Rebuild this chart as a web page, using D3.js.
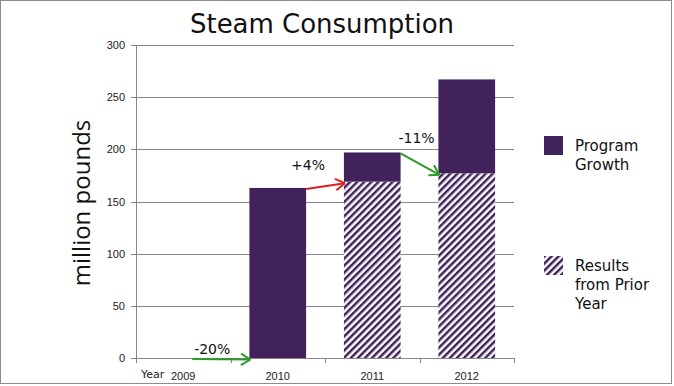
<!DOCTYPE html>
<html>
<head>
<meta charset="utf-8">
<script src="https://cdn.jsdelivr.net/npm/d3@7"></script>
<style>
  body { margin: 0; background: #fff; }
  svg { display: block; }
</style>
</head>
<body>
<script>
// Chart data
const years = ["2009", "2010", "2011", "2012"];
const priorYear = [0, 0, 169, 177];   // results carried from prior year (hatched)
const growth = [0, 163, 28, 90];      // program growth (solid)
const yTicks = [0, 50, 100, 150, 200, 250, 300];
const changes = [
  { from: "2009", to: "2010", label: "-20%", color: "#2a9a2a" },
  { from: "2010", to: "2011", label: "+4%", color: "#e02020" },
  { from: "2011", to: "2012", label: "-11%", color: "#2a9a2a" }
];

const W = 674, H = 386;
const purple = "#42225b";
const gridCol = "#868686";

const svg = d3.select("body").append("svg")
  .attr("width", W)
  .attr("height", H);

// hatch pattern for "results from prior year"
const defs = svg.append("defs");
const pat = defs.append("pattern")
  .attr("id", "hatch")
  .attr("patternUnits", "userSpaceOnUse")
  .attr("width", 5)
  .attr("height", 5)
  .attr("patternTransform", "rotate(45)");
pat.append("rect").attr("width", 5).attr("height", 5).attr("fill", "#fff");
pat.append("rect").attr("width", 2.5).attr("height", 5).attr("fill", purple);

// outer border
svg.append("rect")
  .attr("x", 0.5).attr("y", 0.5)
  .attr("width", 671).attr("height", 383)
  .attr("fill", "#fff")
  .attr("stroke", "#8c8c8c");

// Scales
const x = d3.scaleBand().domain(years).range([136, 514]).padding(0);
const y = d3.scaleLinear().domain([0, 300]).range([358, 45]);
const barW = x.bandwidth() * 0.6;
const barX = (yr) => x(yr) + (x.bandwidth() - barW) / 2;

// gridlines + y ticks
const g = svg.append("g");
g.selectAll("line.grid")
  .data(yTicks)
  .join("line")
  .attr("class", "grid")
  .attr("x1", 131).attr("x2", 514)
  .attr("y1", (d) => Math.round(y(d)) + 0.5)
  .attr("y2", (d) => Math.round(y(d)) + 0.5)
  .attr("stroke", gridCol);

g.selectAll("text.ytick")
  .data(yTicks)
  .join("text")
  .attr("class", "ytick")
  .attr("x", 125)
  .attr("y", (d) => y(d) + 4)
  .attr("text-anchor", "end")
  .attr("font-family", "Liberation Sans, sans-serif")
  .attr("font-size", 11)
  .attr("fill", "#222")
  .text((d) => d);

// y axis line
g.append("line")
  .attr("x1", 136.5).attr("x2", 136.5)
  .attr("y1", y(300)).attr("y2", y(0))
  .attr("stroke", gridCol);

// x ticks at category boundaries
const bounds = years.map((d) => x(d)).concat([x.range()[1]]);
g.selectAll("line.xtick")
  .data(bounds)
  .join("line")
  .attr("class", "xtick")
  .attr("x1", (d) => Math.round(d) + 0.5)
  .attr("x2", (d) => Math.round(d) + 0.5)
  .attr("y1", y(0)).attr("y2", y(0) + 5)
  .attr("stroke", gridCol);

g.selectAll("text.xlab")
  .data(years)
  .join("text")
  .attr("class", "xlab")
  .attr("x", (d) => x(d) + x.bandwidth() / 2)
  .attr("y", 380)
  .attr("text-anchor", "middle")
  .attr("font-family", "Liberation Sans, sans-serif")
  .attr("font-size", 11)
  .attr("fill", "#222")
  .text((d) => d);

g.append("text")
  .attr("x", 141).attr("y", 378)
  .attr("font-family", "DejaVu Sans, sans-serif")
  .attr("font-size", 11)
  .attr("fill", "#222")
  .text("Year");

// bars: hatched prior-year part, solid growth on top
const bars = svg.append("g");
bars.selectAll("rect.prior")
  .data(years)
  .join("rect")
  .attr("class", "prior")
  .attr("x", (d) => barX(d))
  .attr("width", barW)
  .attr("y", (d, i) => y(priorYear[i]))
  .attr("height", (d, i) => y(0) - y(priorYear[i]))
  .attr("fill", "url(#hatch)");

bars.selectAll("rect.growth")
  .data(years)
  .join("rect")
  .attr("class", "growth")
  .attr("x", (d) => barX(d))
  .attr("width", barW)
  .attr("y", (d, i) => y(priorYear[i] + growth[i]))
  .attr("height", (d, i) => y(priorYear[i]) - y(priorYear[i] + growth[i]))
  .attr("fill", purple);

// change arrows from previous total to next year's prior-year base
const total = (yr) => {
  const i = years.indexOf(yr);
  return priorYear[i] + growth[i];
};
// label nudges (dx from arrow start, dy from arrow start)
const labelNudge = [[20, -5], [2, -19], [16, -10]];
const arrows = svg.append("g");
changes.forEach((c, k) => {
  const i = years.indexOf(c.to);
  let x1 = barX(c.from) + barW;
  if (total(c.from) === 0) x1 = x(c.from) + x.bandwidth() / 2 + 9;
  const y1 = y(total(c.from)) + 1;
  const x2 = barX(c.to) + 1;
  const y2 = y(priorYear[i]) + 1.5;
  arrows.append("line")
    .attr("x1", x1).attr("y1", y1)
    .attr("x2", x2).attr("y2", y2)
    .attr("stroke", c.color).attr("stroke-width", 2);
  const ang = Math.atan2(y2 - y1, x2 - x1);
  [-0.55, 0.55].forEach((da) => {
    arrows.append("line")
      .attr("x1", x2).attr("y1", y2)
      .attr("x2", x2 - 11 * Math.cos(ang + da))
      .attr("y2", y2 - 11 * Math.sin(ang + da))
      .attr("stroke", c.color).attr("stroke-width", 2);
  });
  arrows.append("text")
    .attr("x", x1 + labelNudge[k][0])
    .attr("y", y1 + labelNudge[k][1])
    .attr("text-anchor", "middle")
    .attr("font-family", "DejaVu Sans, sans-serif")
    .attr("font-size", 14)
    .attr("fill", "#111")
    .text(c.label);
});

// title
svg.append("text")
  .attr("x", 322).attr("y", 33)
  .attr("text-anchor", "middle")
  .attr("font-family", "DejaVu Sans, sans-serif")
  .attr("font-size", 26)
  .attr("textLength", 264)
  .attr("fill", "#111")
  .text("Steam Consumption");

// y axis title
svg.append("text")
  .attr("transform", "translate(90,203) rotate(-90)")
  .attr("text-anchor", "middle")
  .attr("font-family", "Open Sans, sans-serif")
  .attr("font-size", 24)
  .attr("fill", "#111")
  .text("million pounds");

// legend
const legend = [
  { fill: purple, lines: ["Program", "Growth"], y: 136 },
  { fill: "url(#hatch)", lines: ["Results", "from Prior", "Year"], y: 256 }
];
const lg = svg.append("g");
legend.forEach((l) => {
  lg.append("rect")
    .attr("x", 544).attr("y", l.y)
    .attr("width", 19).attr("height", 19)
    .attr("fill", l.fill);
  lg.append("text")
    .attr("x", 575).attr("y", l.y + 15)
    .attr("font-family", "DejaVu Sans, sans-serif")
    .attr("font-size", 15)
    .attr("fill", "#111")
    .selectAll("tspan")
    .data(l.lines)
    .join("tspan")
    .attr("x", 575)
    .attr("dy", (d, i) => (i === 0 ? 0 : 19))
    .text((d) => d);
});
</script>
</body>
</html>
